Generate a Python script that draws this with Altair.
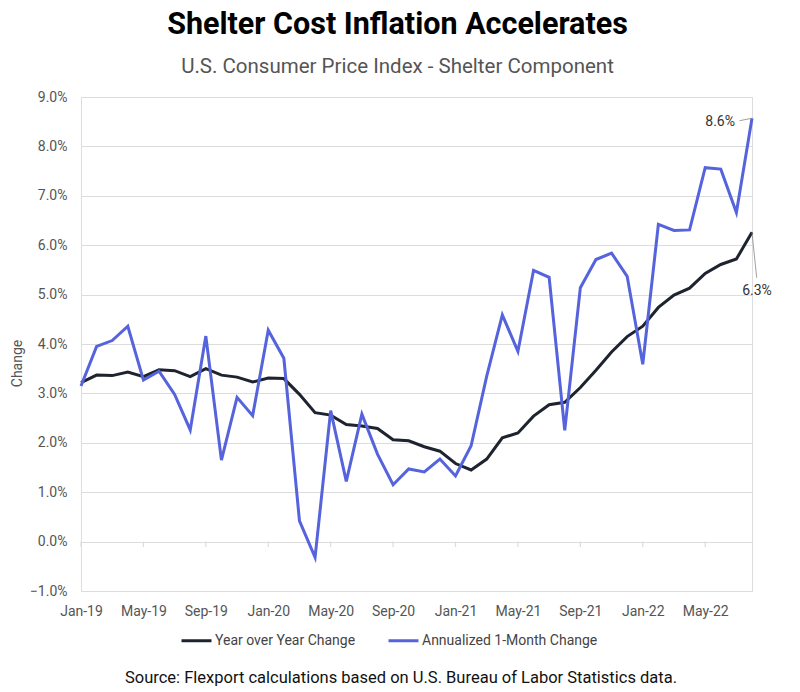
import altair as alt
import pandas as pd

months = pd.date_range("2019-01-01", "2022-08-01", freq="MS").strftime("%b-%y").tolist()
tick_labels = ["Jan-19", "May-19", "Sep-19", "Jan-20", "May-20", "Sep-20",
               "Jan-21", "May-21", "Sep-21", "Jan-22", "May-22"]

yoy = [3.22, 3.37, 3.36, 3.43, 3.34, 3.48, 3.46, 3.34, 3.50, 3.37, 3.33, 3.23,
       3.31, 3.30, 2.98, 2.61, 2.56, 2.37, 2.34, 2.29, 2.06, 2.04, 1.92, 1.83,
       1.58, 1.45, 1.67, 2.10, 2.20, 2.54, 2.77, 2.82, 3.12, 3.47, 3.84, 4.15,
       4.36, 4.74, 4.99, 5.13, 5.43, 5.61, 5.72, 6.26]
ann = [3.15, 3.95, 4.07, 4.36, 3.27, 3.45, 2.98, 2.26, 4.16, 1.65, 2.92, 2.55,
       4.28, 3.71, 0.42, -0.32, 2.65, 1.22, 2.58, 1.77, 1.15, 1.47, 1.41, 1.67,
       1.33, 1.94, 3.35, 4.59, 3.85, 5.49, 5.35, 2.25, 5.14, 5.71, 5.84, 5.37,
       3.59, 6.42, 6.30, 6.31, 7.57, 7.54, 6.66, 8.57]

s_yoy = "Year over Year Change"
s_ann = "Annualized 1-Month Change"

rows = []
for i, m in enumerate(months):
    rows.append({"i": i, "month": m, "series": s_yoy, "value": yoy[i]})
for i, m in enumerate(months):
    rows.append({"i": i, "month": m, "series": s_ann, "value": ann[i]})
df = pd.DataFrame(rows)

last = len(months) - 1
top_df = pd.DataFrame([{"i": last, "value": ann[-1], "label": f"{ann[-1]:.1f}%",
                        "i0": last - 0.8, "v0": ann[-1] - 0.05}])
bot_df = pd.DataFrame([{"i": last, "value": yoy[-1], "label": f"{yoy[-1]:.1f}%",
                        "i0": last + 0.3, "v0": yoy[-1] - 0.92}])

FONT = "Roboto"
GRID = "#dcdcdc"
TXT = "#555555"

label_expr = "[" + ",".join(f"'{t}'" for t in tick_labels) + "][round(datum.value/4)]"

xs = alt.Scale(domain=[0, last], nice=False, zero=False)
ys = alt.Scale(domain=[-1, 9], nice=False)

x_enc = alt.X("i:Q", scale=xs,
              axis=alt.Axis(values=list(range(0, last, 4)), labelExpr=label_expr,
                            title=None, grid=False, ticks=False, domain=False,
                            labelFlush=False, labelOverlap=False,
                            labelPadding=13, labelFontSize=14, labelColor=TXT,
                            labelFont=FONT))
y_enc = alt.Y("value:Q", scale=ys,
              axis=alt.Axis(values=list(range(-1, 10)), labelExpr="format(datum.value,'.1f') + '%'",
                            title="Change", titleFont=FONT, titleFontSize=14,
                            titleFontWeight="normal", titleColor=TXT,
                            titleX=-57, titleY=266, titleAngle=-90,
                            grid=True, gridColor=GRID, gridWidth=1.2,
                            ticks=False, domain=False, labelPadding=14,
                            labelFontSize=14, labelColor=TXT, labelFont=FONT))

lines = alt.Chart(df).mark_line(strokeWidth=3).encode(
    x=x_enc, y=y_enc,
    color=alt.Color("series:N",
                    scale=alt.Scale(domain=[s_yoy, s_ann], range=["#1e2330", "#5563dc"]),
                    legend=alt.Legend(title=None, orient="none", legendX=99, legendY=527,
                                      direction="horizontal", symbolType="stroke",
                                      symbolSize=900, symbolStrokeWidth=3,
                                      labelFont=FONT, labelFontSize=14, labelColor="#444444",
                                      labelLimit=400, labelOffset=2, columnPadding=26)),
    order=alt.Order("series:N", sort="descending"),
)

tick_df = pd.DataFrame({"i": list(range(0, last, 4))})
tick_df["y0"] = 0.0
tick_df["y1"] = -0.11
ticks = alt.Chart(tick_df).mark_rule(color=GRID, strokeWidth=1.2).encode(
    x=alt.X("i:Q", scale=xs), y=alt.Y("y0:Q", scale=ys), y2="y1:Q")

lbl_top = alt.Chart(top_df).mark_text(
    align="right", baseline="middle", dx=-17, dy=4, font=FONT, fontSize=14, color="#333333"
).encode(x="i:Q", y="value:Q", text="label:N")
lbl_bot = alt.Chart(bot_df).mark_text(
    align="center", baseline="middle", dx=5, dy=59, font=FONT, fontSize=14, color="#333333"
).encode(x="i:Q", y="value:Q", text="label:N")

lead_top = alt.Chart(top_df).mark_rule(color="#888888", strokeWidth=0.8).encode(
    x="i0:Q", y="v0:Q", x2="i:Q", y2="value:Q")
lead_bot = alt.Chart(bot_df).mark_rule(color="#888888", strokeWidth=0.8).encode(
    x="i:Q", y="value:Q", x2="i0:Q", y2="v0:Q")

source = alt.Chart(pd.DataFrame({"t": ["Source: Flexport calculations based on U.S. Bureau of Labor Statistics data."]})).mark_text(
    align="center", baseline="middle", font=FONT, fontSize=16.5, color="#111111"
).encode(x=alt.value(320), y=alt.value(581), text="t:N")

chart = alt.layer(ticks, lines, lead_top, lead_bot, lbl_top, lbl_bot, source).properties(
    width=671, height=494,
    autosize=alt.AutoSizeParams(type="none"),
    padding={"left": 81, "top": 97, "right": 48, "bottom": 101},
    title=alt.TitleParams(
        text="Shelter Cost Inflation Accelerates",
        subtitle="U.S. Consumer Price Index - Shelter Component",
        anchor="middle", dx=-19, font=FONT, fontSize=30.5, fontWeight="bold", color="#000000",
        subtitleFont=FONT, subtitleFontSize=20.5, subtitleColor="#555555",
        subtitlePadding=16, offset=13,
    ),
).configure_view(stroke=None).configure(background="white")

chart.save("out.html", embed_options={"renderer": "svg", "actions": False})
